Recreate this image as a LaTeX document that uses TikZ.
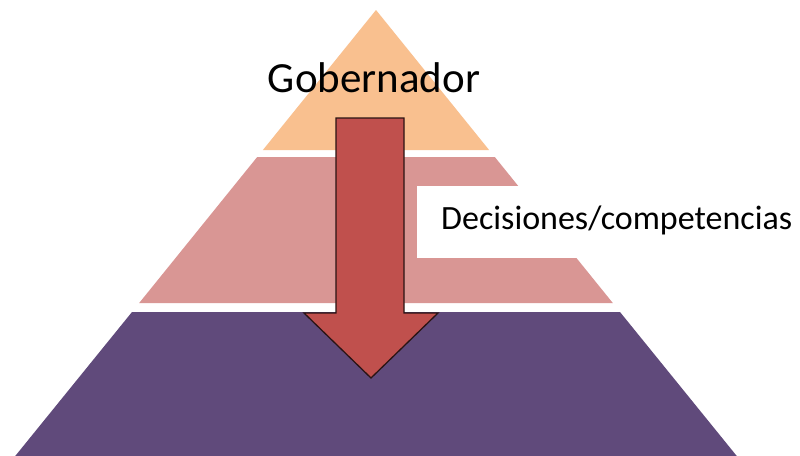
\documentclass[tikz,border=0pt]{standalone}
\usepackage{fontspec}
\setmainfont{Carlito}
\definecolor{tierorange}{HTML}{F9C08F}
\definecolor{tierpink}{HTML}{D99694}
\definecolor{tierpurple}{HTML}{604A7B}
\definecolor{arrowred}{HTML}{C0504D}
\definecolor{arrowline}{HTML}{2A1414}
\begin{document}
\begin{tikzpicture}[x=1pt,y=-1pt,
  tier/.style={draw=none},
  bigarrow/.style={fill=arrowred,draw=arrowline,line width=1.3pt,line join=miter},
  lbl/.style={inner sep=0pt,text=black}]
\useasboundingbox (0,0) rectangle (800,455);
\fill[white] (0,0) rectangle (800,455);
% tiers of the pyramid
\fill[tier,tierorange] (376,10) -- (489.1,150) -- (262.9,150) -- cycle;
\fill[tier,tierpink] (257.2,157) -- (494.8,157) -- (612.8,303) -- (139.2,303) -- cycle;
\fill[tier,tierpurple] (132,312) -- (620,312) -- (740,460) -- (12,460) -- cycle;
% white label box
\fill[white] (417,186) rectangle (800,258);
% arrow
\draw[bigarrow] (336,118) -- (404,118) -- (404,313) -- (438,313) -- (371,378)
  -- (304,313) -- (336,313) -- cycle;
% labels
\node[lbl,font=\fontsize{43}{50}\selectfont] (gob) at (374,78) {Gobernador};
\node[lbl,font=\fontsize{34}{40}\selectfont,anchor=west] (dec) at (441,220) {Decisiones/competencias};
\end{tikzpicture}
\end{document}
